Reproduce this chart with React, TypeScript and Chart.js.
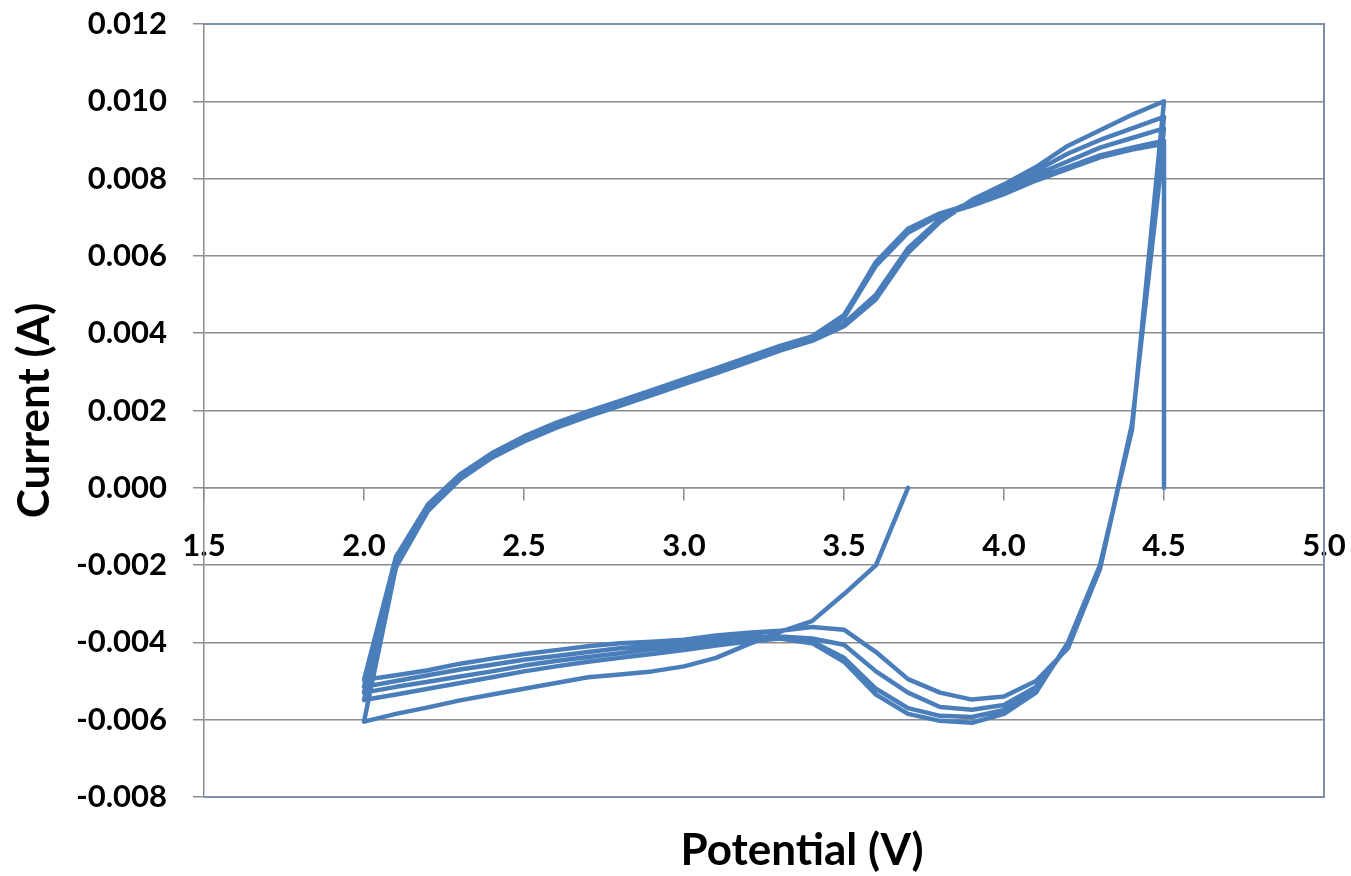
import React, { useEffect, useRef } from 'react';
import { Chart, registerables } from 'chart.js';

Chart.register(...registerables);

const FONT = 'Lato, "Open Sans", "DejaVu Sans", sans-serif';
const LINE_COLOR = '#4a7ebb';
const GRID_COLOR = '#8c8c8c';
const FRAME_COLOR = '#7d8fa8';

// Potential grids (V)
const firstCathodicV = [3.7, 3.6, 3.5, 3.4, 3.3, 3.2, 3.1, 3.0, 2.9, 2.8, 2.7, 2.6, 2.5, 2.4, 2.3, 2.2, 2.1, 2.0];
const anodicV = [2.1, 2.2, 2.3, 2.4, 2.5, 2.6, 2.7, 2.8, 2.9, 3.0, 3.1, 3.2, 3.3, 3.4, 3.5, 3.6, 3.7, 3.8, 3.9, 4.0, 4.1, 4.2, 4.3, 4.4, 4.5];
const cathodicV = [4.4, 4.3, 4.2, 4.1, 4.0, 3.9, 3.8, 3.7, 3.6, 3.5, 3.4, 3.3, 3.2, 3.1, 3.0, 2.9, 2.8, 2.7, 2.6, 2.5, 2.4, 2.3, 2.2, 2.1, 2.0];
const endV = [4.5];

// Currents (A)
const cathodic1 = [0.0, -0.00200, -0.00275, -0.00345, -0.00373, -0.00405, -0.00440, -0.00462, -0.00475, -0.00483, -0.00490, -0.00505, -0.00520, -0.00535, -0.00550, -0.00568, -0.00585, -0.00605];
const anodic1 = [-0.00205, -0.00060, 0.00022, 0.00078, 0.00120, 0.00155, 0.00185, 0.00212, 0.00240, 0.00268, 0.00296, 0.00325, 0.00355, 0.00380, 0.00418, 0.00488, 0.00608, 0.00688, 0.00745, 0.00785, 0.00830, 0.00885, 0.00925, 0.00965, 0.01000];
const cathodic2 = [0.00150, -0.00200, -0.00400, -0.00530, -0.00585, -0.00608, -0.00603, -0.00585, -0.00535, -0.00450, -0.00402, -0.00390, -0.00398, -0.00408, -0.00420, -0.00430, -0.00440, -0.00450, -0.00462, -0.00475, -0.00490, -0.00505, -0.00520, -0.00535, -0.00549];
const anodic2 = [-0.00195, -0.00055, 0.00026, 0.00082, 0.00124, 0.00160, 0.00190, 0.00217, 0.00245, 0.00273, 0.00301, 0.00330, 0.00360, 0.00385, 0.00425, 0.00500, 0.00620, 0.00695, 0.00740, 0.00780, 0.00820, 0.00865, 0.00900, 0.00930, 0.00960];
const cathodic3 = [0.00155, -0.00205, -0.00405, -0.00525, -0.00575, -0.00593, -0.00590, -0.00570, -0.00520, -0.00440, -0.00398, -0.00388, -0.00392, -0.00400, -0.00410, -0.00418, -0.00428, -0.00438, -0.00448, -0.00460, -0.00475, -0.00488, -0.00502, -0.00515, -0.00530];
const anodic3 = [-0.00188, -0.00050, 0.00030, 0.00085, 0.00128, 0.00163, 0.00193, 0.00220, 0.00248, 0.00276, 0.00304, 0.00333, 0.00362, 0.00388, 0.00440, 0.00575, 0.00660, 0.00705, 0.00740, 0.00770, 0.00810, 0.00845, 0.00880, 0.00905, 0.00930];
const cathodic4 = [0.00160, -0.00210, -0.00410, -0.00515, -0.00562, -0.00574, -0.00567, -0.00530, -0.00475, -0.00406, -0.00390, -0.00385, -0.00385, -0.00392, -0.00402, -0.00408, -0.00415, -0.00425, -0.00435, -0.00445, -0.00458, -0.00470, -0.00485, -0.00500, -0.00515];
const anodic4 = [-0.00182, -0.00046, 0.00033, 0.00088, 0.00131, 0.00166, 0.00196, 0.00223, 0.00251, 0.00279, 0.00307, 0.00336, 0.00365, 0.00390, 0.00445, 0.00585, 0.00670, 0.00710, 0.00735, 0.00765, 0.00800, 0.00830, 0.00860, 0.00880, 0.00898];
const cathodic5 = [0.00165, -0.00210, -0.00415, -0.00500, -0.00540, -0.00548, -0.00530, -0.00495, -0.00425, -0.00367, -0.00360, -0.00370, -0.00375, -0.00382, -0.00393, -0.00398, -0.00402, -0.00410, -0.00420, -0.00430, -0.00442, -0.00455, -0.00472, -0.00485, -0.00497];
const anodic5 = [-0.00178, -0.00043, 0.00035, 0.00090, 0.00133, 0.00168, 0.00198, 0.00225, 0.00253, 0.00281, 0.00309, 0.00338, 0.00367, 0.00392, 0.00447, 0.00580, 0.00665, 0.00705, 0.00730, 0.00760, 0.00795, 0.00825, 0.00855, 0.00875, 0.00890];
const endI = [0.0];

const X_TICK_MIN = 1.5;
const X_TICK_MAX = 5.0;
const X_STEP = 0.5;
const Y_TICK_MIN = -0.008;
const Y_TICK_MAX = 0.012;
const Y_STEP = 0.002;

const X_TITLE = 'Potential (V)';
const Y_TITLE = 'Current (A)';

const framePlugin = {
  id: 'frameAndTitle',
  beforeDatasetsDraw(chart: any) {
    const { ctx, chartArea } = chart;
    const { left, right, top, bottom } = chartArea;
    ctx.save();
    ctx.strokeStyle = FRAME_COLOR;
    ctx.lineWidth = 2;
    ctx.beginPath();
    ctx.moveTo(left, top);
    ctx.lineTo(right, top);
    ctx.lineTo(right, bottom);
    ctx.lineTo(left, bottom);
    ctx.stroke();
    ctx.restore();
  },
  afterDraw(chart: any) {
    const { ctx, chartArea } = chart;
    ctx.save();
    ctx.fillStyle = '#000';
    ctx.font = `bold 44px ${FONT}`;
    ctx.textAlign = 'center';
    ctx.textBaseline = 'middle';
    ctx.fillText(X_TITLE, (chartArea.left + chartArea.right) / 2 + 38, 851);
    ctx.restore();
  },
};

export default function App() {
  const ref = useRef<HTMLCanvasElement>(null);

  useEffect(() => {
    const sweeps: [number[], number[]][] = [
      [firstCathodicV, cathodic1],
      [anodicV, anodic1],
      [cathodicV, cathodic2],
      [anodicV, anodic2],
      [cathodicV, cathodic3],
      [anodicV, anodic3],
      [cathodicV, cathodic4],
      [anodicV, anodic4],
      [cathodicV, cathodic5],
      [anodicV, anodic5],
      [endV, endI],
    ];
    const points = sweeps.flatMap(([vs, is]) => vs.map((v, i) => ({ x: v, y: is[i] })));

    const tickFont = { family: FONT, size: 31, weight: 'bold' as const };

    const chart = new Chart(ref.current as HTMLCanvasElement, {
      type: 'scatter',
      data: {
        datasets: [
          {
            data: points,
            showLine: true,
            borderColor: LINE_COLOR,
            backgroundColor: LINE_COLOR,
            borderWidth: 4.5,
            pointRadius: 0,
            pointHoverRadius: 0,
            tension: 0,
            borderJoinStyle: 'round',
            borderCapStyle: 'round',
          } as any,
        ],
      },
      options: {
        responsive: false,
        animation: false,
        devicePixelRatio: 1,
        layout: { padding: { left: 0, top: 24, right: 27, bottom: 79 } },
        plugins: { legend: { display: false }, tooltip: { enabled: false } },
        scales: {
          x: {
            type: 'linear',
            position: { y: 0 } as any,
            min: X_TICK_MIN,
            max: X_TICK_MAX,
            ticks: {
              stepSize: X_STEP,
              callback: (v: any) => Number(v).toFixed(1),
              font: tickFont,
              color: '#000',
              padding: 28,
              maxRotation: 0,
              autoSkip: false,
            },
            grid: { drawOnChartArea: false, drawTicks: true, tickLength: 12, color: GRID_COLOR, lineWidth: 1.5 },
            border: { display: true, color: GRID_COLOR, width: 1.5 },
            afterFit: (scale: any) => {
              scale.paddingLeft = 0;
              scale.paddingRight = 0;
              scale.paddingTop = 0;
              scale.paddingBottom = 0;
            },
          },
          y: {
            type: 'linear',
            position: 'left',
            min: Y_TICK_MIN,
            max: Y_TICK_MAX,
            ticks: {
              stepSize: Y_STEP,
              callback: (v: any) => (Math.abs(Number(v)) < 1e-9 ? '0.000' : Number(v).toFixed(3)),
              font: tickFont,
              color: '#000',
              padding: 26,
            },
            grid: { color: GRID_COLOR, lineWidth: 1.5, tickLength: 11 },
            border: { display: true, color: GRID_COLOR, width: 1.5 },
            title: {
              display: true,
              text: Y_TITLE,
              color: '#000',
              font: { family: FONT, size: 44, weight: 'bold' },
              padding: { top: 8, bottom: 0 },
            },
            afterFit: (scale: any) => {
              scale.width = 204;
              scale.paddingTop = 0;
              scale.paddingBottom = 0;
              scale.paddingLeft = 0;
              scale.paddingRight = 0;
            },
          },
        },
      } as any,
      plugins: [framePlugin],
    });
    return () => chart.destroy();
  }, []);

  return (
    <div style={{ position: 'fixed', left: 0, top: 0, width: 1351, height: 876, background: '#fff' }}>
      <canvas ref={ref} width={1351} height={876} style={{ display: 'block' }} />
    </div>
  );
}
